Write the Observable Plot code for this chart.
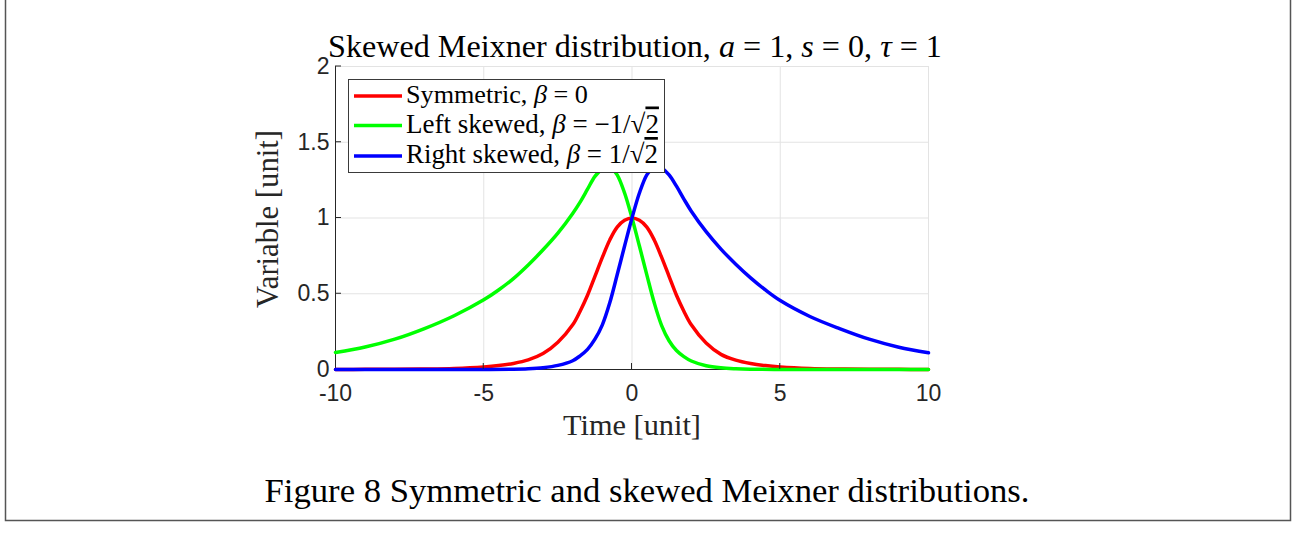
<!DOCTYPE html>
<html>
<head>
<meta charset="utf-8">
<script src="https://cdn.jsdelivr.net/npm/d3@7"></script>
<script src="https://cdn.jsdelivr.net/npm/@observablehq/plot@0.6"></script>
<style>
  html, body { margin: 0; padding: 0; background: #fff; }
  #chart { width: 1298px; height: 548px; position: relative; }
</style>
</head>
<body>
<div id="chart"></div>
<script>
// ---------- data ----------
const xTicks = [-10, -5, 0, 5, 10];
const yTicks = [0, 0.5, 1, 1.5, 2];

const seriesNames = ["Symmetric", "Left skewed", "Right skewed"];
const seriesColors = ["#ff0000", "#00ff00", "#0000ff"];

const symmetricX = [-10, -9, -8, -7, -6, -5, -4.5, -4, -3.5, -3, -2.5, -2, -1.75, -1.5, -1.25, -1, -0.75, -0.5, -0.25, 0,
                    0.25, 0.5, 0.75, 1, 1.25, 1.5, 1.75, 2, 2.5, 3, 3.5, 4, 4.5, 5, 6, 7, 8, 9, 10];
const symmetricY = [0, 0.001, 0.001, 0.003, 0.007, 0.017, 0.026, 0.04, 0.063, 0.105, 0.18, 0.295, 0.385, 0.49, 0.615, 0.74, 0.855, 0.94, 0.985, 1,
                    0.985, 0.94, 0.855, 0.74, 0.615, 0.49, 0.385, 0.295, 0.175, 0.10, 0.062, 0.04, 0.026, 0.017, 0.007, 0.003, 0.001, 0.001, 0];

const leftX = [-10, -9, -8, -7, -6, -5, -4.5, -4, -3.5, -3, -2.5, -2, -1.75, -1.5, -1.25, -1, -0.85, -0.7, -0.5, -0.25, 0,
               0.25, 0.5, 0.75, 1, 1.25, 1.5, 1.75, 2, 2.5, 3, 3.5, 4, 5, 6, 7, 8, 9, 10];
const leftY = [0.112, 0.148, 0.2, 0.27, 0.355, 0.46, 0.525, 0.6, 0.69, 0.79, 0.9, 1.03, 1.105, 1.19, 1.275, 1.325, 1.34, 1.33, 1.285, 1.165, 1.0,
               0.815, 0.625, 0.44, 0.29, 0.19, 0.125, 0.085, 0.056, 0.025, 0.011, 0.005, 0.002, 0.0005, 0, 0, 0, 0, 0];

const rightX = [-10, -9, -8, -7, -6, -5, -4, -3.5, -3, -2.5, -2, -1.75, -1.5, -1.25, -1, -0.75, -0.5, -0.25, 0,
                0.25, 0.5, 0.7, 0.85, 1, 1.25, 1.5, 1.75, 2, 2.5, 3, 3.5, 4, 4.5, 5, 6, 7, 8, 9, 10];
const rightY = [0, 0, 0, 0, 0, 0.0005, 0.002, 0.005, 0.012, 0.027, 0.058, 0.09, 0.133, 0.2, 0.295, 0.44, 0.625, 0.815, 1.0,
                1.165, 1.285, 1.33, 1.34, 1.33, 1.285, 1.21, 1.125, 1.045, 0.91, 0.795, 0.695, 0.605, 0.525, 0.455, 0.35, 0.27, 0.2, 0.147, 0.11];

// ---------- build table ----------
const rows = [];
[[symmetricX, symmetricY], [leftX, leftY], [rightX, rightY]].forEach(([xs, ys], i) => {
  xs.forEach((v, j) => rows.push({series: seriesNames[i], x: v, y: ys[j]}));
});

const W = 1298, H = 548;
const axisColor = "#262626";
const gridColor = "#e3e3e3";

const plot = Plot.plot({
  width: W,
  height: H,
  marginLeft: 335,
  marginRight: 370,
  marginTop: 66,
  marginBottom: 179,
  style: {fontFamily: "'Liberation Sans', Arial, sans-serif", fontSize: "23px", color: axisColor, background: "#fff", overflow: "visible"},
  x: {domain: [-10, 10], label: null},
  y: {domain: [0, 2], label: null},
  color: {domain: seriesNames, range: seriesColors},
  marks: [
    Plot.gridX(xTicks, {stroke: gridColor, strokeOpacity: 1, strokeWidth: 1}),
    Plot.gridY(yTicks, {stroke: gridColor, strokeOpacity: 1, strokeWidth: 1}),
    Plot.ruleY([0], {stroke: axisColor, strokeWidth: 1}),
    Plot.ruleX([-10], {stroke: axisColor, strokeWidth: 1}),
    Plot.axisX(xTicks, {tickSize: 0, tickPadding: 15, tickFormat: d => String(d), fontSize: 23, fill: axisColor, label: null}),
    Plot.axisY(yTicks, {tickSize: 0, tickPadding: 6, tickFormat: d => String(d), fontSize: 23, fill: axisColor, label: null}),
    Plot.line(rows, {x: "x", y: "y", z: "series", stroke: "series", strokeWidth: 3.5, curve: "catmull-rom"})
  ]
});

document.getElementById("chart").appendChild(plot);

const svg = d3.select(plot);
const sx = plot.scale("x"), sy = plot.scale("y");
const X = v => sx.apply(v), Y = v => sy.apply(v);

// inward ticks
const tg = svg.append("g").attr("stroke", axisColor).attr("stroke-width", 1);
xTicks.slice(1, -1).forEach(t => tg.append("line").attr("x1", X(t)).attr("x2", X(t)).attr("y1", Y(0)).attr("y2", Y(0) - 6));
yTicks.slice(1).forEach(t => tg.append("line").attr("x1", X(-10)).attr("x2", X(-10) + 6).attr("y1", Y(t)).attr("y2", Y(t)));

const serif = "'Liberation Serif', 'Times New Roman', serif";

function fit(sel, target, base) {
  sel.style("font-size", base + "px");
  const w = sel.node().getComputedTextLength();
  sel.style("font-size", (base * target / w).toFixed(2) + "px");
}

function addMath(textSel, parts) {
  parts.forEach(p => {
    const t = textSel.append("tspan").text(p.t);
    if (p.i) t.style("font-style", "italic");
    if (p.o) t.style("text-decoration", "overline");
  });
}

// title
const title = svg.append("text").attr("x", 635).attr("y", 57).attr("text-anchor", "middle")
  .style("font-family", serif).attr("fill", "#000");
addMath(title, [{t: "Skewed Meixner distribution, "}, {t: "a", i: 1}, {t: " = 1, "}, {t: "s", i: 1}, {t: " = 0, "}, {t: "τ", i: 1}, {t: " = 1"}]);
fit(title, 614, 30);

// axis labels
const xl = svg.append("text").attr("x", 632).attr("y", 435).attr("text-anchor", "middle")
  .style("font-family", serif).attr("fill", axisColor).text("Time [unit]");
fit(xl, 138, 30);
const yl = svg.append("text").attr("transform", "translate(278,219) rotate(-90)").attr("text-anchor", "middle")
  .style("font-family", serif).attr("fill", axisColor).text("Variable [unit]");
fit(yl, 178, 30);

// legend
const lg = svg.append("g");
lg.append("rect").attr("x", 348.5).attr("y", 79.5).attr("width", 316).attr("height", 93)
  .attr("fill", "#fff").attr("stroke", "#3a3a3a").attr("stroke-width", 1);
const legendLabels = [
  [{t: "Symmetric, "}, {t: "β", i: 1}, {t: " = 0"}],
  [{t: "Left skewed, "}, {t: "β", i: 1}, {t: " = −1/√"}, {t: "2", o: 1}],
  [{t: "Right skewed, "}, {t: "β", i: 1}, {t: " = 1/√"}, {t: "2", o: 1}]
];
const legendWidths = [182, 253, 252];
const rowY = [96, 125.5, 156];
legendLabels.forEach((parts, i) => {
  lg.append("line").attr("x1", 354).attr("x2", 402).attr("y1", rowY[i]).attr("y2", rowY[i])
    .attr("stroke", seriesColors[i]).attr("stroke-width", 3.5);
  const t = lg.append("text").attr("x", 406).attr("y", rowY[i] + 7).attr("text-anchor", "start")
    .style("font-family", serif).attr("fill", "#000");
  addMath(t, parts);
  fit(t, legendWidths[i], 24);
});

// caption
const cap = svg.append("text").attr("x", 647).attr("y", 502).attr("text-anchor", "middle")
  .style("font-family", serif).attr("fill", "#000").text("Figure 8 Symmetric and skewed Meixner distributions.");
fit(cap, 765, 32);

// outer frame (left, right, bottom)
svg.append("path").attr("d", "M5.5,0 V520.5 H1290.5 V0").attr("fill", "none").attr("stroke", "#555").attr("stroke-width", 1.5);
</script>
</body>
</html>
